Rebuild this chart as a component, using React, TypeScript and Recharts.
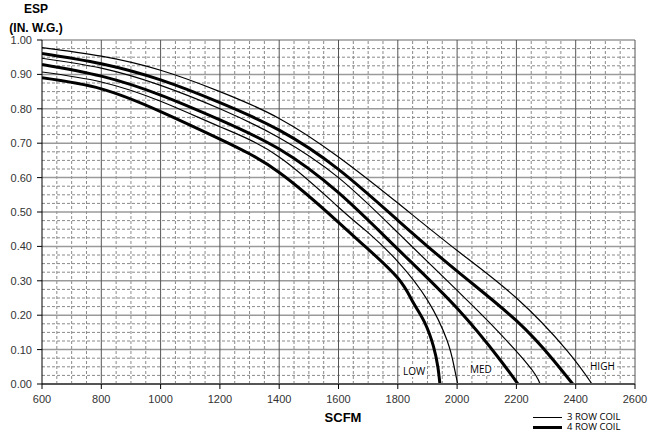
import React from 'react'
import { LineChart, Line, XAxis, YAxis, ReferenceLine } from 'recharts'

// fan curves: external static pressure (in. w.g.) vs airflow (scfm)
const high3Row = [
  { scfm: 600, esp: 0.978 }, { scfm: 800, esp: 0.953 }, { scfm: 1000, esp: 0.912 },
  { scfm: 1200, esp: 0.85 }, { scfm: 1400, esp: 0.772 }, { scfm: 1600, esp: 0.66 },
  { scfm: 1800, esp: 0.526 }, { scfm: 2000, esp: 0.388 }, { scfm: 2200, esp: 0.25 },
  { scfm: 2370, esp: 0.098 }, { scfm: 2455, esp: 0 }
]
const high4Row = [
  { scfm: 600, esp: 0.961 }, { scfm: 800, esp: 0.931 }, { scfm: 1000, esp: 0.884 },
  { scfm: 1200, esp: 0.818 }, { scfm: 1400, esp: 0.738 }, { scfm: 1600, esp: 0.624 },
  { scfm: 1800, esp: 0.476 }, { scfm: 2000, esp: 0.328 }, { scfm: 2200, esp: 0.184 },
  { scfm: 2325, esp: 0.069 }, { scfm: 2390, esp: 0 }
]
const med3Row = [
  { scfm: 600, esp: 0.947 }, { scfm: 800, esp: 0.918 }, { scfm: 1000, esp: 0.868 },
  { scfm: 1200, esp: 0.8 }, { scfm: 1400, esp: 0.716 }, { scfm: 1600, esp: 0.6 },
  { scfm: 1800, esp: 0.44 }, { scfm: 2000, esp: 0.272 }, { scfm: 2112, esp: 0.176 },
  { scfm: 2240, esp: 0.055 }, { scfm: 2280, esp: 0 }
]
const med4Row = [
  { scfm: 600, esp: 0.929 }, { scfm: 800, esp: 0.895 }, { scfm: 1000, esp: 0.84 },
  { scfm: 1200, esp: 0.768 }, { scfm: 1400, esp: 0.683 }, { scfm: 1600, esp: 0.556 },
  { scfm: 1800, esp: 0.392 }, { scfm: 2000, esp: 0.22 }, { scfm: 2146, esp: 0.069 },
  { scfm: 2205, esp: 0 }
]
const low3Row = [
  { scfm: 600, esp: 0.907 }, { scfm: 800, esp: 0.878 }, { scfm: 1000, esp: 0.822 },
  { scfm: 1200, esp: 0.748 }, { scfm: 1400, esp: 0.66 }, { scfm: 1600, esp: 0.514 },
  { scfm: 1700, esp: 0.44 }, { scfm: 1800, esp: 0.356 }, { scfm: 1900, esp: 0.244 },
  { scfm: 1966, esp: 0.127 }, { scfm: 1990, esp: 0.05 }, { scfm: 2002, esp: 0 }
]
const low4Row = [
  { scfm: 600, esp: 0.89 }, { scfm: 800, esp: 0.858 }, { scfm: 1000, esp: 0.792 },
  { scfm: 1200, esp: 0.712 }, { scfm: 1400, esp: 0.615 }, { scfm: 1600, esp: 0.47 },
  { scfm: 1700, esp: 0.392 }, { scfm: 1800, esp: 0.308 }, { scfm: 1850, esp: 0.24 },
  { scfm: 1890, esp: 0.18 }, { scfm: 1920, esp: 0.11 }, { scfm: 1935, esp: 0.05 },
  { scfm: 1942, esp: 0 }
]

const xTicks = [600, 800, 1000, 1200, 1400, 1600, 1800, 2000, 2200, 2400, 2600]
const yTicks = [0, 0.1, 0.2, 0.3, 0.4, 0.5, 0.6, 0.7, 0.8, 0.9, 1.0]

// minor gridlines: every 50 scfm and every 0.025 in. w.g.
const xMinor = Array.from({ length: 41 }, (_, i) => 600 + i * 50).filter(v => v % 200 !== 0)
const yMinor = Array.from({ length: 41 }, (_, i) => Math.round(i * 25) / 1000).filter((_, i) => i % 4 !== 0)

const tickStyle = { fill: '#333', fontSize: 11, fontFamily: 'Liberation Sans, Arial, sans-serif' }
const labelFont = 'Open Sans, sans-serif'

const curves = [
  { data: high3Row, width: 1.2 },
  { data: high4Row, width: 3 },
  { data: med3Row, width: 1.2 },
  { data: med4Row, width: 3 },
  { data: low3Row, width: 1.2 },
  { data: low4Row, width: 3 }
]

function CurveTag({ x, y, text }: { x: number, y: number, text: string }) {
  return (
    <div style={{
      position: 'absolute', left: x, top: y, background: '#fff', padding: '0 2px',
      fontFamily: labelFont, fontSize: 10, lineHeight: '12px', color: '#000'
    }}>{text}</div>
  )
}

export default function App() {
  return (
    <div style={{ position: 'absolute', left: 0, top: 0, width: 663, height: 444, background: '#fff' }}>
      <LineChart width={663} height={444} margin={{ top: 40, right: 28, bottom: 0, left: 0 }}>
        <XAxis
          type="number"
          dataKey="scfm"
          domain={[600, 2600]}
          ticks={xTicks}
          height={60}
          tickSize={5}
          tickMargin={6}
          tick={tickStyle}
          axisLine={{ stroke: '#555', strokeWidth: 2 }}
          tickLine={{ stroke: '#000' }}
          allowDataOverflow
        />
        <YAxis
          type="number"
          domain={[0, 1]}
          ticks={yTicks}
          width={42}
          tickSize={5}
          tickMargin={5}
          tick={tickStyle}
          tickFormatter={(v: number) => v.toFixed(2)}
          axisLine={{ stroke: '#000' }}
          tickLine={{ stroke: '#000' }}
        />
        {yMinor.map(v => (
          <ReferenceLine key={'ym' + v} y={v} stroke="#8a8a8a" strokeDasharray="3 2" />
        ))}
        {xMinor.map(v => (
          <ReferenceLine key={'xm' + v} x={v} stroke="#8a8a8a" strokeDasharray="3 2" />
        ))}
        {yTicks.slice(1).map(v => (
          <ReferenceLine key={'y' + v} y={v} stroke="#9a9a9a" strokeWidth={1.5} />
        ))}
        {xTicks.slice(1).map(v => (
          <ReferenceLine key={'x' + v} x={v} stroke="#555" />
        ))}
        {curves.map((c, i) => (
          <Line
            key={i}
            data={c.data}
            dataKey="esp"
            type="natural"
            stroke="#000"
            strokeWidth={c.width}
            dot={false}
            isAnimationActive={false}
          />
        ))}
      </LineChart>

      <CurveTag x={401} y={365} text="LOW" />
      <CurveTag x={468} y={363} text="MED" />
      <CurveTag x={588} y={360} text="HIGH" />

      <div style={{
        position: 'absolute', left: 0, top: 0, width: 72, textAlign: 'center',
        fontFamily: 'Liberation Sans, Arial, sans-serif', fontWeight: 'bold', fontSize: 12, lineHeight: '19px', color: '#000'
      }}>
        <div>ESP</div>
        <div>(IN. W.G.)</div>
      </div>

      <div style={{
        position: 'absolute', left: 300, top: 410, width: 86, textAlign: 'center',
        fontFamily: 'Liberation Sans, Arial, sans-serif', fontWeight: 'bold', fontSize: 13, color: '#000'
      }}>SCFM</div>

      <div style={{ position: 'absolute', left: 533, top: 412, fontFamily: labelFont, fontSize: 9.5, lineHeight: '10px', color: '#000' }}>
        <div style={{ display: 'flex', alignItems: 'center', height: 10 }}>
          <span style={{ display: 'inline-block', width: 29, height: 0, borderTop: '1px solid #000', marginRight: 5 }} />
          3 ROW COIL
        </div>
        <div style={{ display: 'flex', alignItems: 'center', height: 10 }}>
          <span style={{ display: 'inline-block', width: 29, height: 0, borderTop: '3px solid #000', marginRight: 5 }} />
          4 ROW COIL
        </div>
      </div>
    </div>
  )
}
